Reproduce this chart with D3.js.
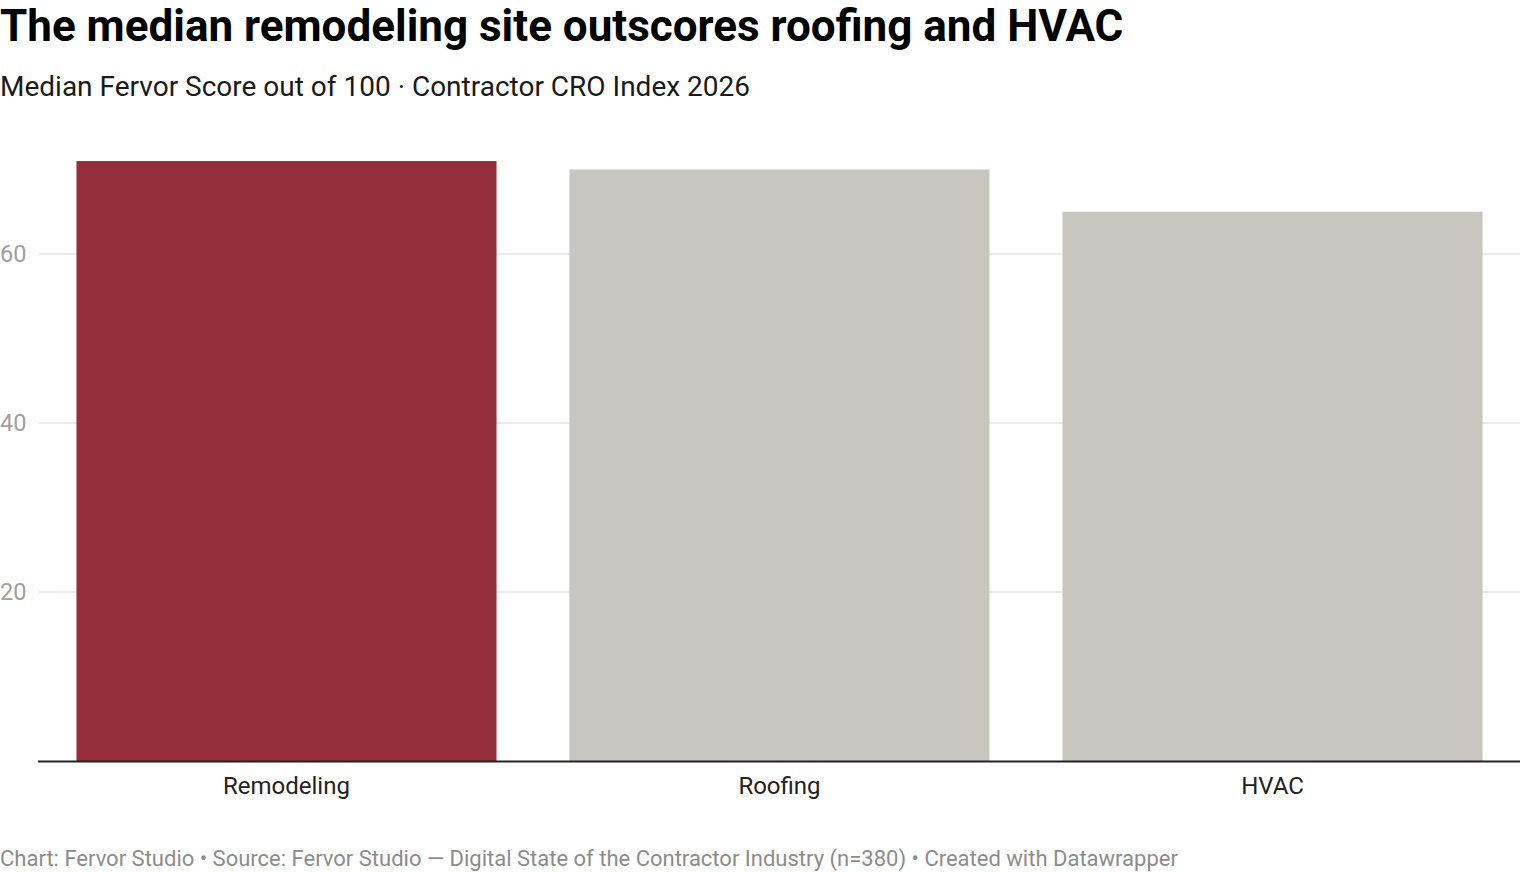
<!DOCTYPE html>
<html>
<head>
<meta charset="utf-8">
<script src="https://cdn.jsdelivr.net/npm/d3@7"></script>
<style>
  body { margin: 0; background: #fff; font-family: Roboto, sans-serif; }
  .tick-label { fill: #a0a0a0; font-size: 23.5px; }
  .cat-label { fill: #222; font-size: 24px; }
</style>
</head>
<body>
<svg id="chart" width="1520" height="872"></svg>
<script>
const categories = ['Remodeling', 'Roofing', 'HVAC'];
const values = [71, 70, 65];
const highlight = 'Remodeling';
const yTicks = [20, 40, 60];

const title = 'The median remodeling site outscores roofing and HVAC';
const subtitle = 'Median Fervor Score out of 100 \u00b7 Contractor CRO Index 2026';
const footer = 'Chart: Fervor Studio \u2022 Source: Fervor Studio \u2014 Digital State of the Contractor Industry (n=380) \u2022 Created with Datawrapper';

const svg = d3.select('#chart');
const plotLeft = 39, plotRight = 1520, baseline = 761;

// scales
const x = d3.scaleBand()
  .domain(categories)
  .range([plotLeft, plotRight])
  .paddingInner(0.148)
  .paddingOuter(0.076);
const y = d3.scaleLinear()
  .domain([0, 80])
  .range([baseline, baseline - 80 * 8.45]);

// header
svg.append('text')
  .attr('x', 0).attr('y', 41)
  .attr('font-size', 44).attr('font-weight', 700).attr('fill', '#000')
  .text(title);
svg.append('text')
  .attr('x', 0).attr('y', 96)
  .attr('font-size', 28).attr('fill', '#1a1a1a')
  .text(subtitle);

// gridlines + tick labels
const grid = svg.append('g');
grid.selectAll('line')
  .data(yTicks)
  .enter().append('line')
    .attr('x1', plotLeft).attr('x2', plotRight)
    .attr('y1', d => y(d)).attr('y2', d => y(d))
    .attr('stroke', '#e3e3e3').attr('stroke-width', 1.5);
grid.selectAll('text')
  .data(yTicks)
  .enter().append('text')
    .attr('class', 'tick-label')
    .attr('x', 0).attr('y', d => y(d))
    .attr('dy', '0.35em')
    .text(d => d);

// bars
svg.append('g')
  .selectAll('rect')
  .data(categories)
  .enter().append('rect')
    .attr('x', d => x(d))
    .attr('width', x.bandwidth())
    .attr('y', (d, i) => y(values[i]))
    .attr('height', (d, i) => y(0) - y(values[i]))
    .attr('fill', d => d === highlight ? '#952d3a' : '#c9c6bf');

// baseline
svg.append('line')
  .attr('x1', plotLeft - 1).attr('x2', plotRight)
  .attr('y1', baseline + 0.5).attr('y2', baseline + 0.5)
  .attr('stroke', '#222').attr('stroke-width', 2);

// category labels
svg.append('g')
  .selectAll('text')
  .data(categories)
  .enter().append('text')
    .attr('class', 'cat-label')
    .attr('x', d => x(d) + x.bandwidth() / 2)
    .attr('y', 794)
    .attr('text-anchor', 'middle')
    .text(d => d);

// footer
svg.append('text')
  .attr('x', 0).attr('y', 866)
  .attr('font-size', 22).attr('fill', '#8c8c8c')
  .text(footer);
</script>
</body>
</html>
